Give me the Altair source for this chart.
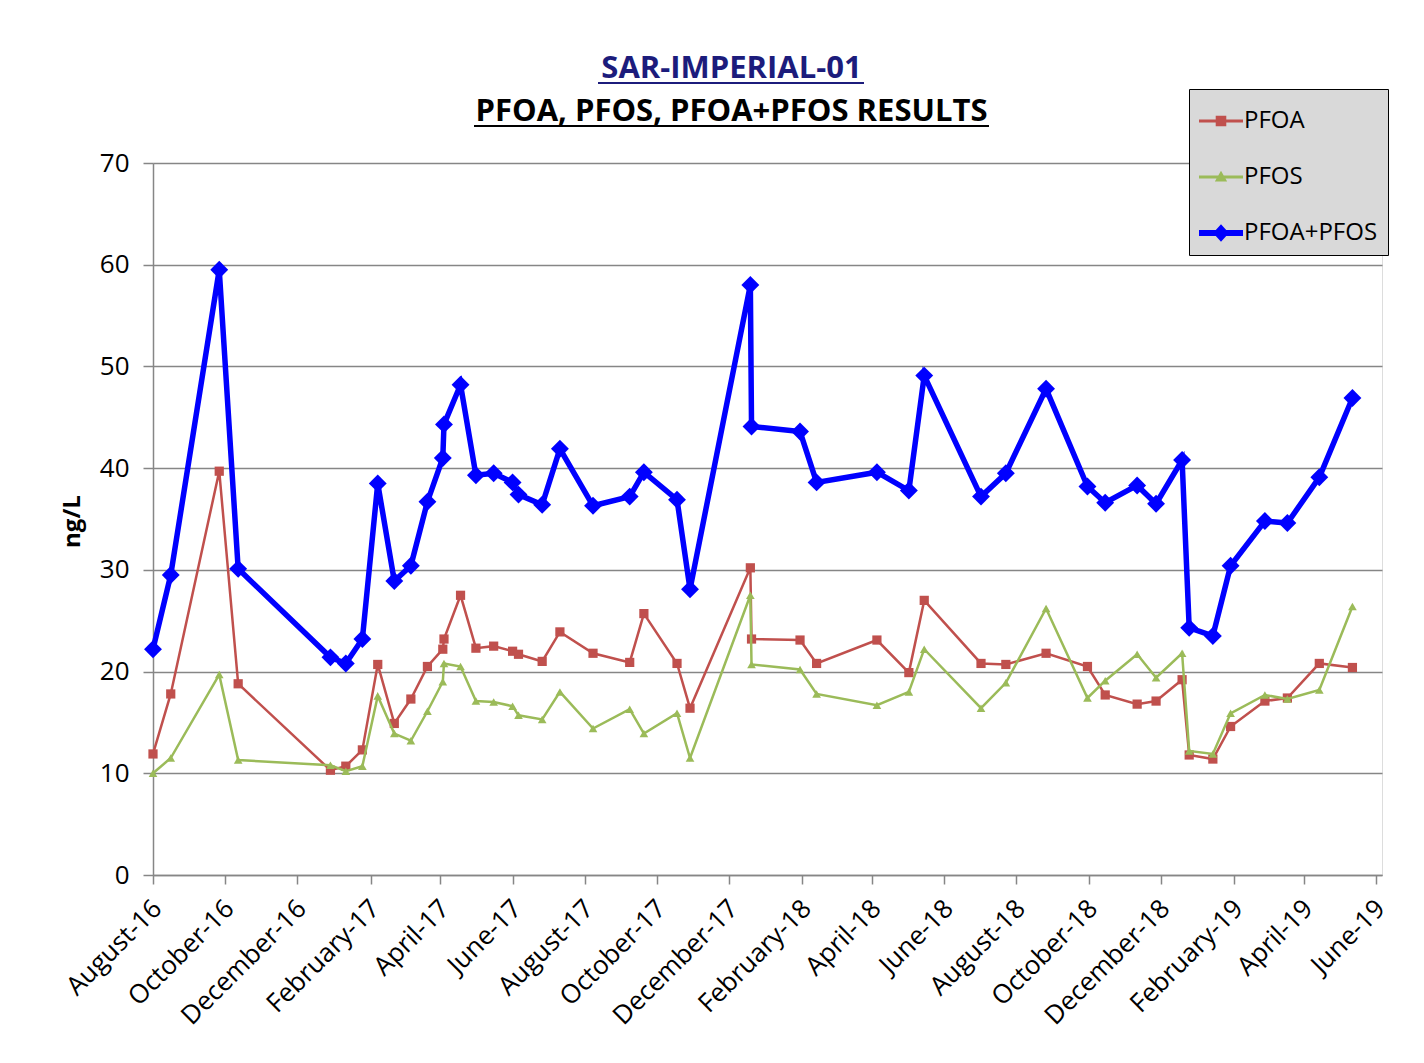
import altair as alt
import pandas as pd

# ---- data ----
dates = [
    "2016-08-01", "2016-08-16", "2016-09-26", "2016-10-12", "2016-12-29",
    "2017-01-11", "2017-01-25", "2017-02-07", "2017-02-21", "2017-03-07",
    "2017-03-21", "2017-04-03", "2017-04-04", "2017-04-18", "2017-05-01",
    "2017-05-16", "2017-06-01", "2017-06-06", "2017-06-26", "2017-07-11",
    "2017-08-08", "2017-09-08", "2017-09-20", "2017-10-18", "2017-10-29",
    "2017-12-19", "2017-12-20", "2018-01-30", "2018-02-13", "2018-04-05",
    "2018-05-02", "2018-05-15", "2018-07-02", "2018-07-23", "2018-08-26",
    "2018-09-30", "2018-10-15", "2018-11-11", "2018-11-27", "2018-12-19",
    "2018-12-25", "2019-01-14", "2019-01-29", "2019-02-27", "2019-03-18",
    "2019-04-14", "2019-05-12",
]
pfoa = [
    11.9, 17.8, 39.7, 18.8, 10.3, 10.7, 12.3, 20.7, 14.9, 17.3,
    20.5, 22.2, 23.2, 27.5, 22.3, 22.5, 22.0, 21.7, 21.0, 23.9,
    21.8, 20.9, 25.7, 20.8, 16.4, 30.2, 23.2, 23.1, 20.8, 23.1,
    19.9, 27.0, 20.8, 20.7, 21.8, 20.5, 17.7, 16.8, 17.1, 19.2,
    11.8, 11.4, 14.6, 17.1, 17.4, 20.8, 20.4,
]
pfos = [
    10.0, 11.5, 19.7, 11.3, 10.8, 10.2, 10.7, 17.6, 13.9, 13.2,
    16.1, 19.0, 20.8, 20.5, 17.1, 17.0, 16.6, 15.7, 15.3, 18.0,
    14.4, 16.3, 13.9, 15.9, 11.5, 27.5, 20.7, 20.2, 17.8, 16.7,
    18.0, 22.2, 16.4, 18.9, 26.2, 17.4, 19.1, 21.7, 19.4, 21.8,
    12.2, 11.9, 15.9, 17.7, 17.3, 18.2, 26.4,
]
total = [
    22.2, 29.5, 59.5, 30.1, 21.4, 20.8, 23.2, 38.5, 28.9, 30.4,
    36.7, 41.0, 44.3, 48.2, 39.3, 39.5, 38.6, 37.4, 36.4, 41.9,
    36.3, 37.2, 39.6, 36.9, 28.1, 58.0, 44.1, 43.6, 38.6, 39.6,
    37.8, 49.1, 37.2, 39.5, 47.8, 38.2, 36.6, 38.3, 36.5, 40.8,
    24.3, 23.5, 30.4, 34.8, 34.6, 39.1, 46.9,
]
series_names = ["PFOA", "PFOS", "PFOA+PFOS"]
series_colors = ["#c0504d", "#9bbb59", "#0000ff"]

tick_months = [(2016, 8), (2016, 10), (2016, 12), (2017, 2), (2017, 4), (2017, 6),
               (2017, 8), (2017, 10), (2017, 12), (2018, 2), (2018, 4), (2018, 6),
               (2018, 8), (2018, 10), (2018, 12), (2019, 2), (2019, 4), (2019, 6)]
tick_labels = ["August-16", "October-16", "December-16", "February-17", "April-17",
               "June-17", "August-17", "October-17", "December-17", "February-18",
               "April-18", "June-18", "August-18", "October-18", "December-18",
               "February-19", "April-19", "June-19"]
y_ticks = [0, 10, 20, 30, 40, 50, 60, 70]

title_line1 = "SAR-IMPERIAL-01"
title_line2 = "PFOA, PFOS, PFOA+PFOS RESULTS"
y_title = "ng/L"

# ---- long table ----
rows = []
for name, vals in zip(series_names, [pfoa, pfos, total]):
    for d, v in zip(dates, vals):
        rows.append({"date": d + "T00:00:00", "value": v, "series": name})
df = pd.DataFrame(rows)

FONT = "Open Sans"
GRID = "#868686"

x_enc = alt.X(
    "date:T",
    scale=alt.Scale(domain=[alt.DateTime(year=2016, month=8, date=1),
                            alt.DateTime(year=2019, month=6, date=6)]),
    axis=alt.Axis(
        title=None,
        values=[alt.DateTime(year=y, month=m, date=1) for y, m in tick_months],
        format="%B-%y",
        labelAngle=315,
        labelAlign="right",
        labelBaseline="top",
        labelFont=FONT,
        labelFontSize=26,
        labelColor="#000000",
        labelPadding=11,
        labelOffset=-5,
        labelOverlap=False,
        labelFlush=False,
        grid=False,
        domainColor=GRID,
        domainWidth=1.5,
        tickColor=GRID,
        tickWidth=1.5,
        tickSize=9,
    ),
)
y_enc = alt.Y(
    "value:Q",
    scale=alt.Scale(domain=[0, 70], nice=False),
    axis=alt.Axis(
        title=y_title,
        values=y_ticks,
        labelFont=FONT,
        labelFontSize=26,
        labelColor="#000000",
        labelPadding=14,
        grid=True,
        gridColor=GRID,
        gridWidth=1.5,
        domainColor=GRID,
        domainWidth=1.5,
        tickColor=GRID,
        tickWidth=1.5,
        tickSize=10,
        titleFont=FONT,
        titleFontSize=24,
        titleFontWeight="bold",
        titleColor="#000000",
        titleAngle=270,
        titleX=-81,
        titleY=358,
        titleAlign="center",
        titleBaseline="middle",
    ),
)

styles = {
    "PFOA": dict(shape="square", size=85, width=2.5),
    "PFOS": dict(shape="triangle-up", size=75, width=2.5),
    "PFOA+PFOS": dict(shape="diamond", size=320, width=5.5),
}

layers = []
for name, color in zip(series_names, series_colors):
    st = styles[name]
    base = alt.Chart(df).transform_filter(alt.datum.series == name)
    layers.append(base.mark_line(color=color, strokeWidth=st["width"]).encode(x=x_enc, y=y_enc))
    layers.append(base.mark_point(filled=True, opacity=1, shape=st["shape"], size=st["size"],
                                  color=color).encode(x=x_enc, y=y_enc))

# legend symbols: line segment + marker, unit box [-1, 1]
legend_paths = [
    "M-1,-0.07H1V0.07H-1Z M-0.24,-0.24H0.24V0.24H-0.24Z",
    "M-1,-0.07H1V0.07H-1Z M0,-0.28L0.28,0.2L-0.28,0.2Z",
    "M-1,-0.14H1V0.14H-1Z M0,-0.4L0.36,0L0,0.4L-0.36,0Z",
]
leg = alt.Legend(
    title=None, orient="none", legendX=1036, legendY=-74,
    fillColor="#d9d9d9", strokeColor="#000000", padding=10,
    labelFont=FONT, labelFontSize=24, labelColor="#000000", labelOffset=1,
    labelLimit=0, symbolSize=1936, symbolStrokeWidth=0, symbolOpacity=1,
    rowPadding=22,
)
legend_layer = alt.Chart(df).transform_filter("false").mark_point(filled=True, opacity=1).encode(
    color=alt.Color("series:N", scale=alt.Scale(domain=series_names, range=series_colors), legend=leg),
    shape=alt.Shape("series:N", scale=alt.Scale(domain=series_names, range=legend_paths), legend=leg),
)

# title underlines
one = pd.DataFrame({"k": [0]})
underline1 = alt.Chart(one).mark_rule(color="#1c1c7c", strokeWidth=2).encode(
    x=alt.value(445), x2=alt.value(711), y=alt.value(-80))
underline2 = alt.Chart(one).mark_rule(color="#000000", strokeWidth=2).encode(
    x=alt.value(321), x2=alt.value(836), y=alt.value(-37))

chart = alt.layer(*layers, legend_layer, underline1, underline2).properties(
    width=1229,
    height=712,
    autosize=alt.AutoSizeParams(type="none"),
    padding={"left": 145, "top": 155, "right": 34, "bottom": 180},
    title=alt.Title(
        text=title_line1,
        subtitle=title_line2,
        font=FONT, fontSize=31, fontWeight="bold", color="#1c1c7c",
        subtitleFont=FONT, subtitleFontSize=31, subtitleFontWeight="bold",
        subtitleColor="#000000", subtitlePadding=12,
        anchor="middle", frame="group", dx=-36, dy=76, offset=30,
    ),
).configure_view(stroke=None).configure(background="#ffffff")

chart.save("out.html", embed_options={"renderer": "svg", "actions": False})
